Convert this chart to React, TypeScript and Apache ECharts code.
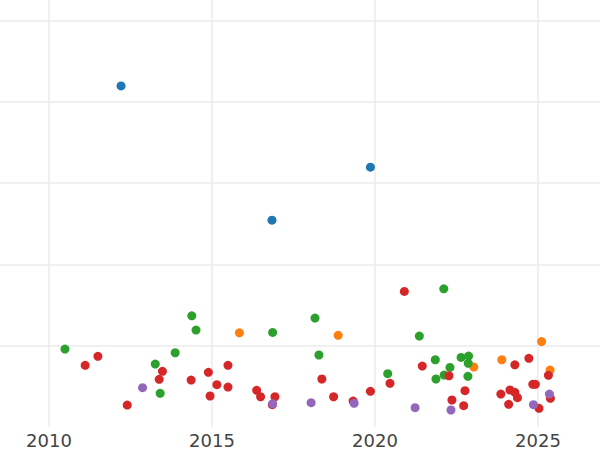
import React, { useEffect, useRef } from "react";
import * as echarts from "echarts";

const xTickInterval = 5;

const blueYears = [2012.21, 2019.86, 2016.84];
const blueValues = [4.193, 3.194, 2.543];

const orangeYears = [2015.84, 2018.87, 2023.03, 2023.89, 2025.11, 2025.37];
const orangeValues = [1.158, 1.127, 0.737, 0.827, 1.05, 0.7];

const greenYears = [
  2010.49, 2013.26, 2013.41, 2013.87, 2014.38, 2014.51, 2016.86, 2018.16, 2018.28, 2020.39,
  2021.36, 2022.11, 2021.85, 2021.87, 2022.12, 2022.3, 2022.64, 2022.87, 2022.86, 2022.85,
];
const greenValues = [
  0.958, 0.774, 0.414, 0.913, 1.367, 1.192, 1.163, 1.339, 0.885, 0.655,
  1.118, 1.699, 0.827, 0.59, 0.639, 0.733, 0.856, 0.872, 0.783, 0.623,
];

const redYears = [
  2011.11, 2011.5, 2012.4, 2013.48, 2013.38, 2014.36, 2014.89, 2014.94, 2015.15, 2015.49,
  2015.49, 2016.37, 2016.49, 2016.93, 2016.85, 2018.37, 2018.73, 2019.33, 2019.86, 2020.46,
  2020.9, 2021.45, 2022.27, 2022.76, 2022.36, 2022.72, 2023.86, 2024.1, 2024.14, 2024.29,
  2024.37, 2024.29, 2024.72, 2024.84, 2024.92, 2025.03, 2025.32, 2025.38,
];
const redValues = [
  0.758, 0.869, 0.27, 0.684, 0.586, 0.577, 0.672, 0.381, 0.52, 0.758,
  0.491, 0.451, 0.372, 0.372, 0.274, 0.59, 0.372, 0.319, 0.439, 0.537,
  1.667, 0.749, 0.63, 0.446, 0.332, 0.262, 0.405, 0.279, 0.455, 0.426,
  0.36, 0.765, 0.844, 0.525, 0.525, 0.23, 0.635, 0.353,
];

const purpleYears = [2012.87, 2016.86, 2018.04, 2019.36, 2021.23, 2022.33, 2024.86, 2025.35];
const purpleValues = [0.483, 0.286, 0.299, 0.291, 0.237, 0.209, 0.274, 0.405];

const groups = [
  { name: "Blue", color: "#1f77b4", xs: blueYears, ys: blueValues },
  { name: "Orange", color: "#ff7f0e", xs: orangeYears, ys: orangeValues },
  { name: "Green", color: "#2ca02c", xs: greenYears, ys: greenValues },
  { name: "Red", color: "#d62728", xs: redYears, ys: redValues },
  { name: "Purple", color: "#9467bd", xs: purpleYears, ys: purpleValues },
];

export default function App() {
  const ref = useRef<HTMLDivElement>(null);
  useEffect(() => {
    if (!ref.current) return;
    const chart = echarts.init(ref.current, null, { renderer: "svg" });
    const lineStyle = { color: "#ebebeb", width: 1.5 };
    chart.setOption({
      animation: false,
      backgroundColor: "#ffffff",
      grid: {
        left: 0,
        right: 0,
        top: 0,
        bottom: 23,
        containLabel: false,
        outerBoundsMode: "none",
      },
      xAxis: {
        type: "value",
        min: 2005,
        max: 2030,
        interval: xTickInterval,
        axisLine: { show: false },
        axisTick: { show: false },
        splitLine: { show: true, lineStyle },
        axisLabel: {
          color: "#444444",
          fontSize: 18,
          fontFamily: "DejaVu Sans",
          margin: 4,
          showMinLabel: false,
          showMaxLabel: false,
          formatter: (v: number) => String(v),
        },
      },
      yAxis: {
        type: "value",
        min: 0,
        max: 6,
        interval: 1,
        axisLine: { show: false },
        axisTick: { show: false },
        axisLabel: { show: false },
        splitLine: { show: true, showMinLine: false, lineStyle },
      },
      series: groups.map((g) => ({
        type: "scatter",
        name: g.name,
        symbol: "circle",
        symbolSize: 9,
        itemStyle: { color: g.color, opacity: 1 },
        data: g.xs.map((x, i) => [x, g.ys[i]]),
      })),
    });
    return () => chart.dispose();
  }, []);
  return (
    <div
      style={{
        position: "fixed",
        left: 0,
        top: 0,
        width: 600,
        height: 450,
        overflow: "hidden",
        background: "#ffffff",
      }}
    >
      <div
        ref={ref}
        style={{ position: "absolute", left: -114, top: -61.4, width: 815, height: 511.4 }}
      />
    </div>
  );
}
